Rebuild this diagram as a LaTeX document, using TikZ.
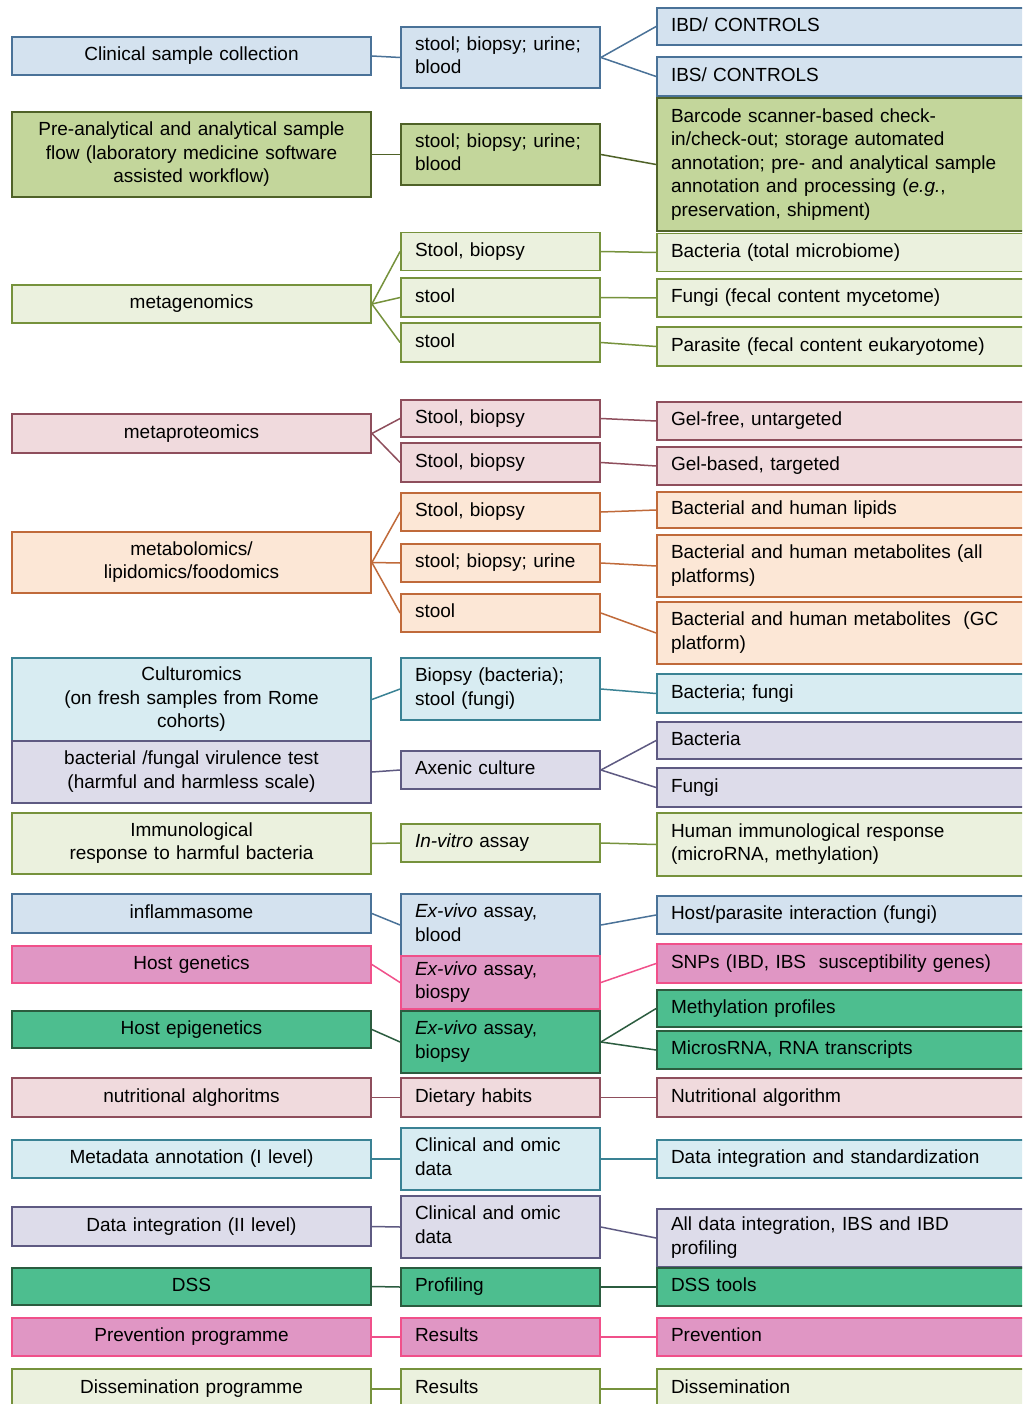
\documentclass[tikz,border=0pt]{standalone}
\usepackage{fontspec}
\setmainfont{Liberation Sans}
\usepackage{xcolor}
\usepackage{tikz}
\usetikzlibrary{positioning,calc}

\definecolor{blueF}{HTML}{D4E2EF}   \definecolor{blueD}{HTML}{4A7298}
\definecolor{grnF}{HTML}{C3D69B}    \definecolor{grnD}{HTML}{4F6228}
\definecolor{oliF}{HTML}{EBF1DE}    \definecolor{oliD}{HTML}{76923C}
\definecolor{roseF}{HTML}{F0DADD}   \definecolor{roseD}{HTML}{8E4E5C}
\definecolor{peachF}{HTML}{FCE7D6}  \definecolor{peachD}{HTML}{C06A3A}
\definecolor{cyanF}{HTML}{D8ECF2}   \definecolor{cyanD}{HTML}{3A8294}
\definecolor{lavF}{HTML}{DDDCEA}    \definecolor{lavD}{HTML}{5E5A82}
\definecolor{pinkF}{HTML}{E096C4}   \definecolor{pinkD}{HTML}{F0508A}
\definecolor{tealF}{HTML}{4DBE8F}   \definecolor{tealD}{HTML}{2B5C3F}

\tikzset{
  box/.style={draw, line width=1.8pt, inner sep=0pt, font=\fontsize{19}{23.5}\selectfont,
    execute at begin node=\strut, execute at end node=\strut},
  lbox/.style={box, minimum width=359pt, text width=340pt, align=center},
  mbox/.style={box, minimum width=199pt, text width=171pt, align=left},
  rbox/.style={box, minimum width=375pt, text width=347pt, align=left},
  cblue/.style={fill=blueF, draw=blueD},   lnblue/.style={draw=blueD, line width=1.5pt},
  cgrn/.style={fill=grnF, draw=grnD},      lngrn/.style={draw=grnD, line width=1.5pt},
  coli/.style={fill=oliF, draw=oliD},      lnoli/.style={draw=oliD, line width=1.5pt},
  crose/.style={fill=roseF, draw=roseD},   lnrose/.style={draw=roseD, line width=1.5pt},
  cpeach/.style={fill=peachF, draw=peachD},lnpeach/.style={draw=peachD, line width=1.5pt},
  ccyan/.style={fill=cyanF, draw=cyanD},   lncyan/.style={draw=cyanD, line width=1.5pt},
  clav/.style={fill=lavF, draw=lavD},      lnlav/.style={draw=lavD, line width=1.5pt},
  cpink/.style={fill=pinkF, draw=pinkD},   lnpink/.style={draw=pinkD, line width=1.5pt},
  cteal/.style={fill=tealF, draw=tealD},   lnteal/.style={draw=tealD, line width=1.5pt},
}

\begin{document}
\begin{tikzpicture}[x=1pt, y=-1pt]
    \useasboundingbox (0,0) rectangle (1022,1404);
    \clip (0,0) rectangle (1022,1404);
    \fill[white] (0,0) rectangle (1022,1404);

    % sample collection
    \node[lbox, cblue, minimum height=38pt] (clin) at (191.5,56) {Clinical sample collection};
    \node[mbox, cblue, minimum height=61pt] (clinS) at (500.5,57.5) {stool; biopsy; urine;\\blood};
    \node[rbox, cblue, minimum height=37pt] (ibd) at (844.5,26.5) {IBD/ CONTROLS};
    \node[rbox, cblue, minimum height=39pt] (ibs) at (844.5,76.5) {IBS/ CONTROLS};
    \path [-, lnblue](clin.east) edge (clinS.west);
    \path [-, lnblue](clinS.east) edge (ibd.west);
    \path [-, lnblue](clinS.east) edge (ibs.west);

    % sample flow
    \node[lbox, cgrn, minimum height=85pt] (pre) at (191.5,154.5) {Pre-analytical and analytical sample\\flow (laboratory medicine software\\assisted workflow)};
    \node[mbox, cgrn, minimum height=61pt] (preS) at (500.5,154.5) {stool; biopsy; urine;\\blood};
    \node[rbox, cgrn, minimum height=133pt] (barc) at (844.5,164.5) {Barcode scanner-based check-\\in/check-out; storage automated\\annotation; pre- and analytical sample\\annotation and processing (\textit{e.g.},\\preservation, shipment)};
    \path [-, lngrn](pre.east) edge (preS.west);
    \path [-, lngrn](preS.east) edge (barc.west);

    % metagenomics
    \node[lbox, coli, minimum height=38pt] (metag) at (191.5,304) {metagenomics};
    \node[mbox, coli, minimum height=38pt] (metagA) at (500.5,251.5) {Stool, biopsy};
    \node[mbox, coli, minimum height=39pt] (metagB) at (500.5,297.5) {stool};
    \node[mbox, coli, minimum height=39pt] (metagC) at (500.5,342.5) {stool};
    \node[rbox, coli, minimum height=38pt] (bact) at (844.5,252.5) {Bacteria (total microbiome)};
    \node[rbox, coli, minimum height=38pt] (fung) at (844.5,298) {Fungi (fecal content mycetome)};
    \node[rbox, coli, minimum height=39pt] (para) at (844.5,346.5) {Parasite (fecal content eukaryotome)};
    \path [-, lnoli](metag.east) edge (metagA.west);
    \path [-, lnoli](metag.east) edge (metagB.west);
    \path [-, lnoli](metag.east) edge (metagC.west);
    \path [-, lnoli](metagA.east) edge (bact.west);
    \path [-, lnoli](metagB.east) edge (fung.west);
    \path [-, lnoli](metagC.east) edge (para.west);

    % metaproteomics
    \node[lbox, crose, minimum height=39pt] (metap) at (191.5,433.5) {metaproteomics};
    \node[mbox, crose, minimum height=37pt] (metapA) at (500.5,418.5) {Stool, biopsy};
    \node[mbox, crose, minimum height=39pt] (metapB) at (500.5,462.5) {Stool, biopsy};
    \node[rbox, crose, minimum height=38pt] (gelf) at (844.5,421) {Gel-free, untargeted};
    \node[rbox, crose, minimum height=38pt] (gelb) at (844.5,466) {Gel-based, targeted};
    \path [-, lnrose](metap.east) edge (metapA.west);
    \path [-, lnrose](metap.east) edge (metapB.west);
    \path [-, lnrose](metapA.east) edge (gelf.west);
    \path [-, lnrose](metapB.east) edge (gelb.west);

    % metabolomics
    \node[lbox, cpeach, minimum height=61pt] (metab) at (191.5,562.5) {metabolomics/\\lipidomics/foodomics};
    \node[mbox, cpeach, minimum height=38pt] (metabA) at (500.5,512) {Stool, biopsy};
    \node[mbox, cpeach, minimum height=38pt] (metabB) at (500.5,563) {stool; biopsy; urine};
    \node[mbox, cpeach, minimum height=38pt] (metabC) at (500.5,613) {stool};
    \node[rbox, cpeach, minimum height=36pt] (lipid) at (844.5,510) {Bacterial and human lipids};
    \node[rbox, cpeach, minimum height=62pt] (metall) at (844.5,566) {Bacterial and human metabolites (all\\platforms)};
    \node[rbox, cpeach, minimum height=62pt] (metgc) at (844.5,633) {Bacterial and human metabolites\ \ (GC\\platform)};
    \path [-, lnpeach](metab.east) edge (metabA.west);
    \path [-, lnpeach](metab.east) edge (metabB.west);
    \path [-, lnpeach](metab.east) edge (metabC.west);
    \path [-, lnpeach](metabA.east) edge (lipid.west);
    \path [-, lnpeach](metabB.east) edge (metall.west);
    \path [-, lnpeach](metabC.east) edge (metgc.west);

    % culturomics and virulence
    \node[lbox, ccyan, minimum height=83pt] (cult) at (191.5,699.5) {Culturomics\\(on fresh samples from Rome\\cohorts)};
    \node[mbox, ccyan, minimum height=62pt] (cultS) at (500.5,689) {Biopsy (bacteria);\\stool (fungi)};
    \node[rbox, ccyan, minimum height=39pt] (bacfun) at (844.5,693.5) {Bacteria; fungi};
    \path [-, lncyan](cult.east) edge (cultS.west);
    \path [-, lncyan](cultS.east) edge (bacfun.west);

    \node[lbox, clav, minimum height=62pt] (vir) at (191.5,772) {bacterial /fungal virulence test\\(harmful and harmless scale)};
    \node[mbox, clav, minimum height=38pt] (axen) at (500.5,770) {Axenic culture};
    \node[rbox, clav, minimum height=37pt] (bacter) at (844.5,740.5) {Bacteria};
    \node[rbox, clav, minimum height=39pt] (fungi) at (844.5,787.5) {Fungi};
    \path [-, lnlav](vir.east) edge (axen.west);
    \path [-, lnlav](axen.east) edge (bacter.west);
    \path [-, lnlav](axen.east) edge (fungi.west);

    % immunology
    \node[lbox, coli, minimum height=61pt] (immu) at (191.5,843.5) {Immunological\\response to harmful bacteria};
    \node[mbox, coli, minimum height=38pt] (invit) at (500.5,843) {\textit{In-vitro} assay};
    \node[rbox, coli, minimum height=63pt] (human) at (844.5,844.5) {Human immunological response\\(microRNA, methylation)};
    \path [-, lnoli](immu.east) edge (invit.west);
    \path [-, lnoli](invit.east) edge (human.west);

    \node[lbox, cblue, minimum height=39pt] (infl) at (191.5,913.5) {inflammasome};
    \node[mbox, cblue, minimum height=62pt] (infS) at (500.5,925) {\textit{Ex-vivo} assay,\\blood};
    \node[rbox, cblue, minimum height=38pt] (hostpar) at (844.5,915) {Host/parasite interaction (fungi)};
    \path [-, lnblue](infl.east) edge (infS.west);
    \path [-, lnblue](infS.east) edge (hostpar.west);

    % host
    \node[lbox, cpink, minimum height=37pt] (gen) at (191.5,964.5) {Host genetics};
    \node[mbox, cpink, minimum height=53pt] (genS) at (500.5,982.5) {\textit{Ex-vivo} assay,\\biospy};
    \node[rbox, cpink, minimum height=39pt] (snp) at (844.5,963.5) {SNPs (IBD, IBS\ \ susceptibility genes)};
    \path [-, lnpink](gen.east) edge (genS.west);
    \path [-, lnpink](genS.east) edge (snp.west);

    \node[lbox, cteal, minimum height=37pt] (epi) at (191.5,1029.5) {Host epigenetics};
    \node[mbox, cteal, minimum height=62pt] (epiS) at (500.5,1042) {\textit{Ex-vivo} assay,\\biopsy};
    \node[rbox, cteal, minimum height=37pt] (methyl) at (844.5,1008.5) {Methylation profiles};
    \node[rbox, cteal, minimum height=38pt] (micro) at (844.5,1050) {MicrosRNA, RNA transcripts};
    \path [-, lnteal](epi.east) edge (epiS.west);
    \path [-, lnteal](epiS.east) edge (methyl.west);
    \path [-, lnteal](epiS.east) edge (micro.west);

    \node[lbox, crose, minimum height=39pt] (nutr) at (191.5,1097.5) {nutritional alghoritms};
    \node[mbox, crose, minimum height=39pt] (diet) at (500.5,1097.5) {Dietary habits};
    \node[rbox, crose, minimum height=39pt] (nutalg) at (844.5,1097.5) {Nutritional algorithm};
    \path [-, lnrose](nutr.east) edge (diet.west);
    \path [-, lnrose](diet.east) edge (nutalg.west);

    % data
    \node[lbox, ccyan, minimum height=38pt] (meta) at (191.5,1159) {Metadata annotation (I level)};
    \node[mbox, ccyan, minimum height=62pt] (metaS) at (500.5,1159) {Clinical and omic\\data};
    \node[rbox, ccyan, minimum height=38pt] (datstd) at (844.5,1159) {Data integration and standardization};
    \path [-, lncyan](meta.east) edge (metaS.west);
    \path [-, lncyan](metaS.east) edge (datstd.west);

    \node[lbox, clav, minimum height=39pt] (dint) at (191.5,1226.5) {Data integration (II level)};
    \node[mbox, clav, minimum height=62pt] (dintS) at (500.5,1227) {Clinical and omic\\data};
    \node[rbox, clav, minimum height=58pt] (alldat) at (844.5,1238) {All data integration, IBS and IBD\\profiling};
    \path [-, lnlav](dint.east) edge (dintS.west);
    \path [-, lnlav](dintS.east) edge (alldat.west);

    \node[lbox, cteal, minimum height=37pt] (dss) at (191.5,1286.5) {DSS};
    \node[mbox, cteal, minimum height=38pt] (prof) at (500.5,1287) {Profiling};
    \node[rbox, cteal, minimum height=38pt] (dsst) at (844.5,1287) {DSS tools};
    \path [-, lnteal](dss.east) edge (prof.west);
    \path [-, lnteal](prof.east) edge (dsst.west);

    \node[lbox, cpink, minimum height=38pt] (prev) at (191.5,1337) {Prevention programme};
    \node[mbox, cpink, minimum height=38pt] (prevS) at (500.5,1337) {Results};
    \node[rbox, cpink, minimum height=38pt] (preve) at (844.5,1337) {Prevention};
    \path [-, lnpink](prev.east) edge (prevS.west);
    \path [-, lnpink](prevS.east) edge (preve.west);

    \node[lbox, coli, minimum height=40pt] (diss) at (191.5,1389) {Dissemination programme};
    \node[mbox, coli, minimum height=40pt] (dissS) at (500.5,1389) {Results};
    \node[rbox, coli, minimum height=40pt] (disse) at (844.5,1389) {Dissemination};
    \path [-, lnoli](diss.east) edge (dissS.west);
    \path [-, lnoli](dissS.east) edge (disse.west);
\end{tikzpicture}
\end{document}
